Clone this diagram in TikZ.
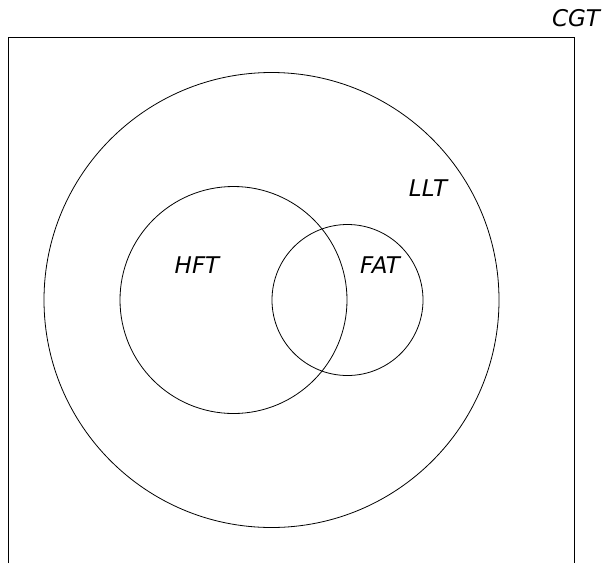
\documentclass[tikz,border=0pt]{standalone}
\usepackage{fontspec}
\setmainfont{DejaVu Sans}
\begin{document}
\begin{tikzpicture}[x=1pt,y=-1pt,
  ring/.style={draw=black,line width=0.8pt},
  lbl/.style={font=\fontsize{23}{27}\selectfont\itshape,inner sep=0pt}]
\useasboundingbox (0,0) rectangle (604,563);
\draw[line width=0.8pt] (8,563) -- (8,37) -- (574,37) -- (574,563);
\node[ring,circle,minimum size=455pt,inner sep=0pt] (llt) at (271.5,300) {};
\node[ring,circle,minimum size=227pt,inner sep=0pt] (hft) at (233.5,300) {};
\node[ring,circle,minimum size=151pt,inner sep=0pt] (fat) at (347.5,300) {};
\node[lbl] (cgtl) at (576,18) {CGT};
\node[lbl] (lltl) at (428,188) {LLT};
\node[lbl] (hftl) at (197,265) {HFT};
\node[lbl] (fatl) at (380,265) {FAT};
\end{tikzpicture}
\end{document}
